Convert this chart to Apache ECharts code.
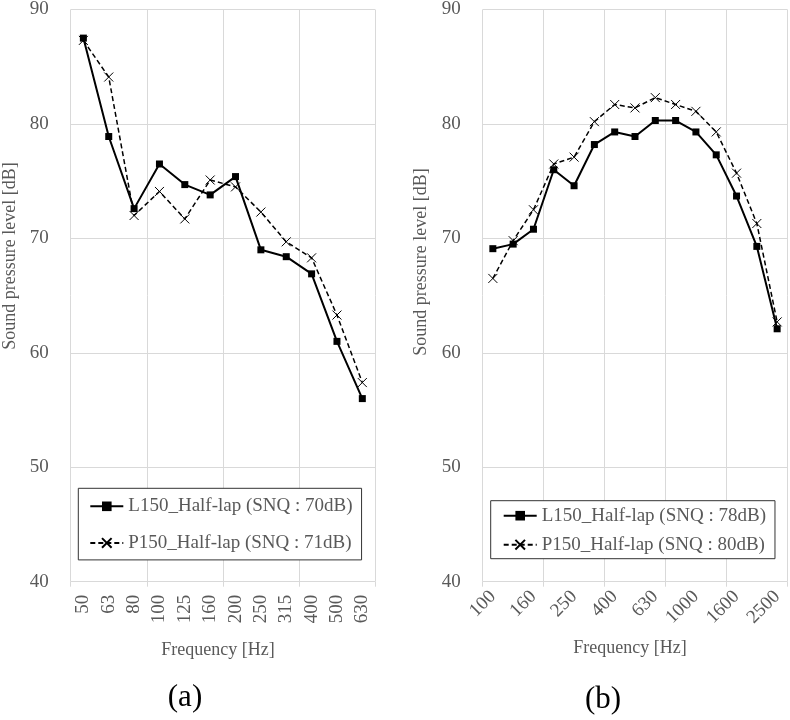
<!DOCTYPE html>
<html><head><meta charset="utf-8">
<script src="https://cdn.jsdelivr.net/npm/echarts@6/dist/echarts.min.js"></script>
<style>html,body{margin:0;padding:0;background:#fff}#c{width:790px;height:720px}</style>
</head><body><div id="c"></div>
<script>
const freqA = ['50','63','80','100','125','160','200','250','315','400','500','630'];
const L150_A = [87.5, 78.9, 72.6, 76.5, 74.7, 73.8, 75.4, 69.0, 68.4, 66.9, 61.0, 56.0];
const P150_A = [87.3, 84.1, 72.0, 74.1, 71.7, 75.1, 74.5, 72.3, 69.7, 68.3, 63.3, 57.4];
const freqB = ['100','125','160','200','250','315','400','500','630','800','1000','1250','1600','2000','2500'];
const L150_B = [69.1, 69.5, 70.8, 76.0, 74.6, 78.2, 79.3, 78.9, 80.3, 80.3, 79.3, 77.3, 73.7, 69.3, 62.1];
const P150_B = [66.5, 69.8, 72.5, 76.5, 77.1, 80.2, 81.7, 81.4, 82.3, 81.7, 81.1, 79.3, 75.7, 71.3, 62.7];
const namesA = ['L150_Half-lap (SNQ : 70dB)', 'P150_Half-lap (SNQ : 71dB)'];
const namesB = ['L150_Half-lap (SNQ : 78dB)', 'P150_Half-lap (SNQ : 80dB)'];
const yTicks = {min: 40, max: 90, interval: 10};

const FONT = '"Liberation Serif", "Times New Roman", serif';
const GRAY = '#595959';
const GRID = '#d9d9d9';
const xSym = 'path://M0,0L10,10M10,0L0,10';

const chart = echarts.init(document.getElementById('c'), null, {renderer: 'canvas'});

function yAxis(i) {
  return {
    type: 'value', gridIndex: i, min: yTicks.min, max: yTicks.max, interval: yTicks.interval,
    axisLine: {show: false}, axisTick: {show: false},
    axisLabel: {color: GRAY, fontFamily: FONT, fontSize: 19, margin: 22},
    splitLine: {lineStyle: {color: GRID, width: 1}}
  };
}
function gridXAxis(i, n) {
  return {
    type: 'value', gridIndex: i, min: 0, max: n, interval: 3, position: 'bottom',
    axisLine: {show: false}, axisLabel: {show: false},
    axisTick: {show: true, length: 5, lineStyle: {color: GRID}},
    splitLine: {show: true, lineStyle: {color: GRID, width: 1}}
  };
}
function lSeries(name, data, xi, yi) {
  return {
    name, type: 'line', data, xAxisIndex: xi, yAxisIndex: yi,
    symbol: 'rect', symbolSize: 7, z: 3,
    lineStyle: {color: '#000', width: 2},
    itemStyle: {color: '#000'}
  };
}
function pSeries(name, data, xi, yi) {
  return {
    name, type: 'line', data, xAxisIndex: xi, yAxisIndex: yi,
    symbol: xSym, symbolSize: 9, z: 2,
    lineStyle: {color: '#000', width: 1.5, type: [5, 3]},
    itemStyle: {color: 'rgba(0,0,0,0)', borderColor: '#000', borderWidth: 1}
  };
}
const txt = (t, x, y, size, color, rot) => ({
  type: 'text', x, y, rotation: rot || 0,
  style: {text: t, fill: color, font: size + 'px "Liberation Serif", serif', align: 'center', verticalAlign: 'middle'}
});

const option = {
  animation: false,
  backgroundColor: '#fff',
  grid: [
    {left: 70.7, top: 9.3, width: 304.3, height: 572.4},
    {left: 482.7, top: 9.3, width: 304.6, height: 572.4}
  ],
  xAxis: [
    {type: 'category', gridIndex: 0, data: freqA, boundaryGap: true,
     axisLine: {show: false}, axisTick: {show: false}, splitLine: {show: false},
     axisLabel: {interval: 0, rotate: 90, color: GRAY, fontFamily: FONT, fontSize: 19, margin: 13}},
    {type: 'category', gridIndex: 1, data: freqB, boundaryGap: true,
     axisLine: {show: false}, axisTick: {show: false}, splitLine: {show: false},
     axisLabel: {interval: 1, rotate: 45, color: GRAY, fontFamily: FONT, fontSize: 19, margin: 12}},
    gridXAxis(0, freqA.length),
    gridXAxis(1, freqB.length)
  ],
  yAxis: [yAxis(0), yAxis(1)],
  legend: [
    {data: namesA, orient: 'vertical', left: 78.3, top: 488.3,
     backgroundColor: '#fff', borderColor: '#333', borderWidth: 1,
     padding: [8, 9, 7, 11], itemGap: 16.6, itemWidth: 33, itemHeight: 12,
     textStyle: {color: GRAY, fontFamily: FONT, fontSize: 19, lineHeight: 20}},
    {data: namesB, orient: 'vertical', left: 490.7, top: 500.7,
     backgroundColor: '#fff', borderColor: '#333', borderWidth: 1,
     padding: [5, 9, 4, 12], itemGap: 9, itemWidth: 33, itemHeight: 12,
     textStyle: {color: GRAY, fontFamily: FONT, fontSize: 19, lineHeight: 20}}
  ],
  series: [
    lSeries(namesA[0], L150_A, 0, 0),
    pSeries(namesA[1], P150_A, 0, 0),
    lSeries(namesB[0], L150_B, 1, 1),
    pSeries(namesB[1], P150_B, 1, 1)
  ],
  graphic: [
    txt('Sound pressure level [dB]', 10, 256, 18, GRAY, Math.PI / 2),
    txt('Sound pressure level [dB]', 421.7, 262, 18, GRAY, Math.PI / 2),
    txt('Frequency [Hz]', 218, 650, 18, GRAY),
    txt('Frequency [Hz]', 630, 648, 18, GRAY),
    txt('(a)', 185, 698, 31, '#000'),
    txt('(b)', 603, 700, 31, '#000')
  ]
};
chart.setOption(option);
</script></body></html>
